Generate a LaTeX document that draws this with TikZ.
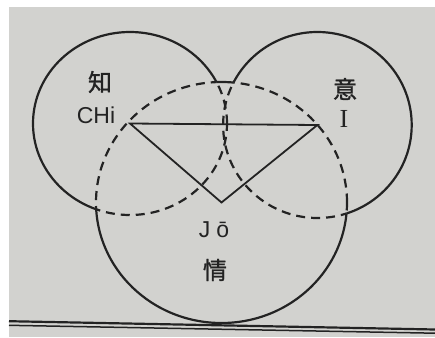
\documentclass[tikz,border=0pt]{standalone}
\usepackage{fontspec}
\setmainfont{Liberation Sans}
\newfontfamily\cjk[FakeBold=1.2]{Noto Sans CJK JP}
\newfontfamily\serifI{Liberation Serif}
\definecolor{paper}{RGB}{210,210,207}
\definecolor{ink}{RGB}{35,35,35}
\begin{document}
\begin{tikzpicture}[x=1pt,y=-1pt,
  solidline/.style={draw=ink,line width=2.2pt},
  dashline/.style={draw=ink,line width=2.2pt,dash pattern=on 9pt off 6pt},
  triline/.style={draw=ink,line width=1.8pt,line join=miter},
  kanji/.style={font=\cjk\fontsize{24}{24}\selectfont,text=ink,inner sep=0pt},
  roman/.style={font=\fontsize{23}{23}\selectfont,text=ink,inner sep=0pt},
  rule/.style={draw=ink}]
\useasboundingbox (0,0) rectangle (435,337);
\fill[white] (0,0) rectangle (435,337);
\fill[paper] (9,7) rectangle (435,337);
\coordinate (L) at (130,123.5);
\coordinate (R) at (317.4,125);
\coordinate (B) at (221.5,202.5);
% left circle
\begin{scope}[even odd rule]
  \clip (-50,-50) rectangle (500,400) (R) ellipse [x radius=94.3pt, y radius=93pt];
  \clip (-50,-50) rectangle (500,400) (B) ellipse [x radius=125.5pt, y radius=120.5pt];
  \draw[solidline] (L) ellipse [x radius=97pt, y radius=91.5pt];
\end{scope}
\begin{scope}
  \clip (B) ellipse [x radius=125.5pt, y radius=120.5pt];
  \draw[dashline] (L) ellipse [x radius=97pt, y radius=91.5pt];
\end{scope}
\begin{scope}[even odd rule]
  \clip (R) ellipse [x radius=94.3pt, y radius=93pt];
  \clip (-50,-50) rectangle (500,400) (B) ellipse [x radius=125.5pt, y radius=120.5pt];
  \draw[dashline] (L) ellipse [x radius=97pt, y radius=91.5pt];
\end{scope}
% right circle
\begin{scope}[even odd rule]
  \clip (-50,-50) rectangle (500,400) (L) ellipse [x radius=97pt, y radius=91.5pt];
  \clip (-50,-50) rectangle (500,400) (B) ellipse [x radius=125.5pt, y radius=120.5pt];
  \draw[solidline] (R) ellipse [x radius=94.3pt, y radius=93pt];
\end{scope}
\begin{scope}
  \clip (B) ellipse [x radius=125.5pt, y radius=120.5pt];
  \draw[dashline] (R) ellipse [x radius=94.3pt, y radius=93pt];
\end{scope}
\begin{scope}[even odd rule]
  \clip (L) ellipse [x radius=97pt, y radius=91.5pt];
  \clip (-50,-50) rectangle (500,400) (B) ellipse [x radius=125.5pt, y radius=120.5pt];
  \draw[dashline] (R) ellipse [x radius=94.3pt, y radius=93pt];
\end{scope}
% bottom circle
\begin{scope}[even odd rule]
  \clip (-50,-50) rectangle (500,400) (L) ellipse [x radius=97pt, y radius=91.5pt];
  \clip (-50,-50) rectangle (500,400) (R) ellipse [x radius=94.3pt, y radius=93pt];
  \draw[solidline] (B) ellipse [x radius=125.5pt, y radius=120.5pt];
\end{scope}
\begin{scope}
  \clip (L) ellipse [x radius=97pt, y radius=91.5pt];
  \draw[dashline] (B) ellipse [x radius=125.5pt, y radius=120.5pt];
\end{scope}
\begin{scope}[even odd rule]
  \clip (R) ellipse [x radius=94.3pt, y radius=93pt];
  \clip (-50,-50) rectangle (500,400) (L) ellipse [x radius=97pt, y radius=91.5pt];
  \draw[dashline] (B) ellipse [x radius=125.5pt, y radius=120.5pt];
\end{scope}
% triangle
\draw[triline] (L) -- (R) -- (B) -- cycle;
% labels
\node[kanji] (chiK) at (100,82) {知};
\node[roman] (chi) at (96,115) {CHi};
\node[kanji] (iK) at (345,89) {意};
\node[roman,font=\serifI\fontsize{26}{26}\selectfont] (iR) at (344,119) {I};
\node[roman] (jo) at (214,230) {J\kern6ptō};
\node[kanji] (joK) at (215,270) {情};
% bottom rules
\coordinate (r1a) at (9,321.2);
\coordinate (r1b) at (435,329.5);
\coordinate (r2a) at (9,325.3);
\coordinate (r2b) at (435,333.2);
\draw[rule,line width=2.2pt] (r1a) -- (r1b);
\draw[rule,line width=1.5pt] (r2a) -- (r2b);
\end{tikzpicture}
\end{document}
